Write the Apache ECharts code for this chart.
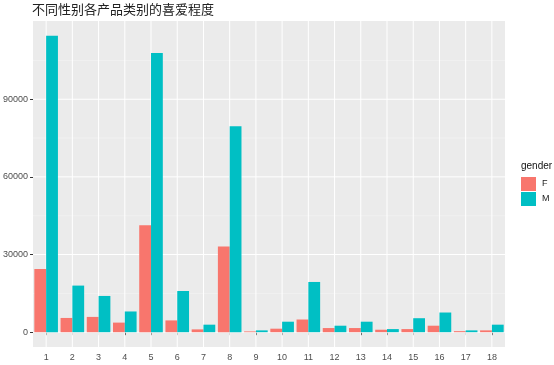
<!DOCTYPE html>
<html><head><meta charset="utf-8">
<script src="https://cdn.jsdelivr.net/npm/echarts@6/dist/echarts.min.js"></script>
<style>html,body{margin:0;padding:0;background:#fff}#c{width:554px;height:365px}</style>
</head><body><div id="c"></div>
<script>
var categories = ['1','2','3','4','5','6','7','8','9','10','11','12','13','14','15','16','17','18'];
var femaleValues = [24400, 5500, 5900, 3700, 41300, 4550, 1080, 33100, 300, 1350, 4900, 1600, 1600, 950, 1200, 2500, 400, 700];
var maleValues = [114500, 18000, 14000, 8000, 107900, 15900, 2900, 79600, 700, 4050, 19400, 2500, 4050, 1200, 5400, 7600, 700, 2900];
var yTicks = [0, 30000, 60000, 90000];
var yMinorTicks = [15000, 45000, 75000, 105000];
var titleText = '不同性别各产品类别的喜爱程度';
var legendTitle = 'gender';
var seriesNames = ['F', 'M'];

var dataMax = Math.max.apply(null, maleValues.concat(femaleValues));
var pad = dataMax * 0.05;

var chart = echarts.init(document.getElementById('c'), null, {renderer: 'canvas'});

function hLine(color, width) {
  return function (params, api) {
    var cs = params.coordSys;
    var y = api.coord([0, api.value(1)])[1];
    return {type: 'line', shape: {x1: cs.x, y1: y, x2: cs.x + cs.width, y2: y},
      style: {stroke: color, lineWidth: width}};
  };
}
function vLine(params, api) {
  var cs = params.coordSys;
  var x = api.coord([api.value(0), 0])[0];
  return {type: 'line', shape: {x1: x, y1: cs.y, x2: x, y2: cs.y + cs.height},
    style: {stroke: '#FFFFFF', lineWidth: 1}};
}

chart.setOption({
  animation: false,
  backgroundColor: '#FFFFFF',
  title: [
    {text: titleText, left: 32, top: 3, padding: 0,
      textStyle: {fontFamily: 'Noto Sans CJK SC', fontSize: 13, fontWeight: 'normal', color: '#222'}},
    {text: legendTitle, left: 521, top: 161, padding: 0,
      textStyle: {fontFamily: 'Liberation Sans', fontSize: 10, fontWeight: 'normal', color: '#111'}}
  ],
  legend: {
    orient: 'vertical', left: 521, top: 177, padding: 0, itemWidth: 15, itemHeight: 14, itemGap: 1,
    icon: 'rect',
    textStyle: {fontFamily: 'Liberation Sans', fontSize: 9, color: '#222', padding: [0, 0, 0, 1]},
    data: seriesNames
  },
  grid: {left: 32, right: 49, top: 21, bottom: 18, show: true, backgroundColor: '#EBEBEB', borderWidth: 0},
  xAxis: {
    type: 'category', data: categories,
    axisLine: {show: false},
    axisTick: {show: true, alignWithLabel: true, interval: 0, length: 3, lineStyle: {color: '#333'}},
    axisLabel: {interval: 0, fontFamily: 'Liberation Sans', fontSize: 9, color: '#4D4D4D', margin: 6},
    splitLine: {show: false}
  },
  yAxis: {
    type: 'value', min: -pad, max: dataMax + pad,
    axisLine: {show: false},
    axisTick: {show: true, length: 3, lineStyle: {color: '#333'}, customValues: yTicks},
    axisLabel: {fontFamily: 'Liberation Sans', fontSize: 9, color: '#4D4D4D', margin: 5, customValues: yTicks,
      formatter: function (v) { return String(v); }},
    splitLine: {show: false}
  },
  series: [
    {type: 'custom', name: 'gridMinor', silent: true, z: 1, renderItem: hLine('#F5F5F5', 0.6),
      data: yMinorTicks.map(function (v) { return [0, v]; })},
    {type: 'custom', name: 'gridMajor', silent: true, z: 1, renderItem: hLine('#FFFFFF', 1),
      data: yTicks.map(function (v) { return [0, v]; })},
    {type: 'custom', name: 'gridX', silent: true, z: 1, renderItem: vLine,
      data: categories.map(function (c) { return [c, 0]; })},
    {type: 'bar', name: seriesNames[0], data: femaleValues, z: 3, barGap: '0%', barCategoryGap: '10%',
      itemStyle: {color: '#F8766D'}},
    {type: 'bar', name: seriesNames[1], data: maleValues, z: 3, barGap: '0%', barCategoryGap: '10%',
      itemStyle: {color: '#00BFC4'}}
  ]
});
</script>
</body></html>
